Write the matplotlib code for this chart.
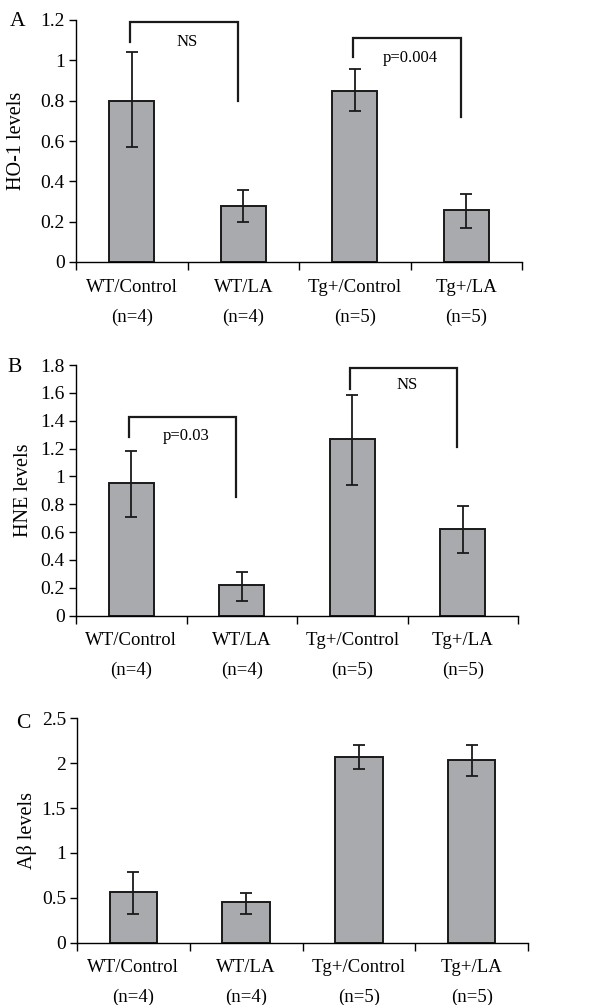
import matplotlib
matplotlib.use("Agg")
import matplotlib.pyplot as plt
import numpy as np

plt.rcParams['font.family'] = ['Liberation Serif', 'DejaVu Serif']
plt.rcParams['mathtext.fontset'] = 'stix'

categories = ["WT/Control\n(n=4)", "WT/LA\n(n=4)", "Tg+/Control\n(n=5)", "Tg+/LA\n(n=5)"]

ho1_mean = [0.80, 0.28, 0.85, 0.26]
ho1_low = [0.57, 0.20, 0.75, 0.17]
ho1_high = [1.04, 0.355, 0.955, 0.335]

hne_mean = [0.95, 0.22, 1.27, 0.62]
hne_low = [0.71, 0.105, 0.935, 0.45]
hne_high = [1.185, 0.315, 1.585, 0.785]

ab_mean = [0.56, 0.45, 2.07, 2.03]
ab_low = [0.32, 0.32, 1.94, 1.86]
ab_high = [0.79, 0.555, 2.20, 2.20]

# brackets: (left idx, right idx, left bottom, top, right bottom, label, label y)
ho1_brackets = [(0, 1, 1.09, 1.19, 0.80, "NS", 1.09),
                (2, 3, 1.015, 1.11, 0.72, "p=0.004", 1.01)]
hne_brackets = [(0, 1, 1.28, 1.425, 0.855, "p=0.03", 1.29),
                (2, 3, 1.63, 1.775, 1.21, "NS", 1.655)]

bar_color = "#a9aaae"

W, H = 590, 1005
fig = plt.figure(figsize=(W / 100, H / 100), dpi=100)

def axes_px(left, right, top, bottom):
    return fig.add_axes([left / W, 1 - bottom / H, (right - left) / W, (bottom - top) / H])

def panel(ax, mean, low, high, ylim, yticks, yticklabels, ylabel, brackets, letter, barw,
          label_x, letter_xy):
    x = np.arange(len(mean)) + 0.5
    mean = np.array(mean); low = np.array(low); high = np.array(high)
    ax.bar(x, mean, width=barw, color=bar_color, edgecolor="#1a1a1a", linewidth=1.4, zorder=2)
    ax.errorbar(x, mean, yerr=[mean - low, high - mean], fmt="none", ecolor="#1a1a1a",
                elinewidth=1.3, capsize=4, capthick=1.3, zorder=3)
    ax.set_xlim(0, len(mean))
    ax.set_ylim(*ylim)
    ax.set_yticks(yticks)
    ax.set_yticklabels(yticklabels, fontsize=14)
    ax.set_xticks(np.arange(len(mean) + 1))
    ax.set_xticklabels([])
    ax.set_xticks(x, minor=True)
    ax.set_xticklabels(categories, minor=True, fontsize=13.5, linespacing=1.95)
    ax.tick_params(axis='x', which='minor', length=0, pad=12)
    ax.tick_params(axis='x', which='major', length=6, width=1.0, direction='out')
    ax.tick_params(axis='y', length=5, width=1.0, direction='out', pad=3)
    for s in ["top", "right"]:
        ax.spines[s].set_visible(False)
    for s in ["left", "bottom"]:
        ax.spines[s].set_linewidth(1.0)
    ax.set_ylabel(ylabel, fontsize=14.5)
    ax.yaxis.set_label_coords(label_x, 0.5)
    for (i, j, lb, top, rb, lab, ly) in brackets:
        xl = x[i] - 0.02
        xr = x[j] - 0.05
        ax.plot([xl, xl, xr, xr], [lb, top, top, rb], color="#1a1a1a", lw=1.6,
                solid_joinstyle='miter', clip_on=False, zorder=4)
        ax.text((xl + xr) / 2 + 0.03, ly, lab, ha="center", va="center", fontsize=12)
    ax.text(letter_xy[0], letter_xy[1], letter, transform=ax.transAxes, fontsize=15.5,
            ha="center", va="center")

axA = axes_px(76, 522, 20, 262)
panel(axA, ho1_mean, ho1_low, ho1_high, (0, 1.2), [0, 0.2, 0.4, 0.6, 0.8, 1.0, 1.2],
      ["0", "0.2", "0.4", "0.6", "0.8", "1", "1.2"], "HO-1 levels", ho1_brackets, "A", 0.4,
      -0.112, (-0.132, 0.995))

axB = axes_px(76, 518, 365, 615.7)
panel(axB, hne_mean, hne_low, hne_high, (0, 1.8), [0, 0.2, 0.4, 0.6, 0.8, 1.0, 1.2, 1.4, 1.6, 1.8],
      ["0", "0.2", "0.4", "0.6", "0.8", "1", "1.2", "1.4", "1.6", "1.8"], "HNE levels",
      hne_brackets, "B", 0.41, -0.097, (-0.14, 0.99))

axC = axes_px(77, 528, 718.3, 942.7)
panel(axC, ab_mean, ab_low, ab_high, (0, 2.5), [0, 0.5, 1.0, 1.5, 2.0, 2.5],
      ["0", "0.5", "1", "1.5", "2", "2.5"], "A\u03b2 levels", [], "C", 0.42,
      -0.089, (-0.12, 0.975))

fig.savefig("out.png", dpi=100)
